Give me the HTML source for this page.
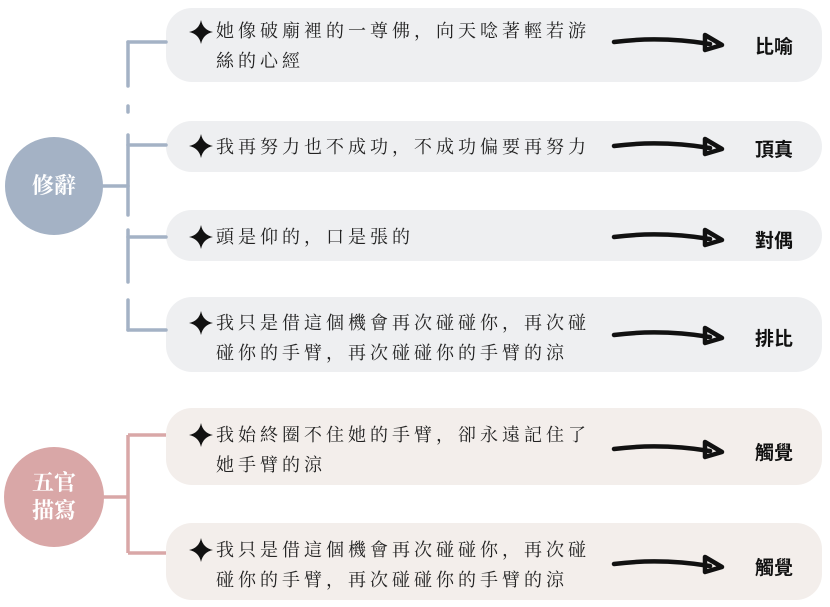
<!DOCTYPE html>
<html><head><meta charset="utf-8"><style>
body{margin:0;width:830px;height:607px;background:#fff;position:relative;overflow:hidden;font-family:"Liberation Serif","Noto Serif CJK SC","Noto Sans CJK TC",serif}
.b{position:absolute;left:166px;width:656px;border-radius:26px}
.bl{background:#eeeff1}.pk{background:#f3eeeb}
.t{position:absolute;left:216px;font-size:18px;letter-spacing:4px;line-height:30px;color:#222;width:380px}
.l{position:absolute;left:755px;font-family:"Liberation Sans","Noto Sans CJK TC",sans-serif;font-weight:bold;font-size:19px;color:#111}
.c{position:absolute;color:#fff;font-size:22px;text-align:center;font-weight:bold;line-height:28px;display:flex;align-items:center;justify-content:center}
</style></head><body>
<div class="b bl" style="top:8px;height:74px"></div>
<div class="b bl" style="top:121px;height:51px"></div>
<div class="b bl" style="top:210px;height:51px"></div>
<div class="b bl" style="top:297px;height:75px"></div>
<div class="b pk" style="top:408px;height:77px"></div>
<div class="b pk" style="top:523px;height:77px"></div>
<svg width="830" height="607" style="position:absolute;left:0;top:0">
<g stroke="#a4b2c5" stroke-width="3.5" fill="none" stroke-linecap="round">
<path d="M128 42V86M128 106V112M128 135V215M128 230V282M128 300V330"/>
<path d="M128 42H166M128 145H166M128 237H166M128 330H166M100 186H128"/>
</g>
<g stroke="#d9a7a7" stroke-width="3.5" fill="none">
<path d="M128 435V553M128 435H166M128 553H166M100 497H128"/>
</g>
<circle cx="54" cy="186" r="49" fill="#a4b2c5"/>
<circle cx="54" cy="497" r="50" fill="#d9a7a7"/>
<g fill="#111">
<path id="s" d="M201 20 Q203 30 213 32 Q203 34 201 44 Q199 34 189 32 Q199 30 201 20Z"/>
<use href="#s" y="114"/><use href="#s" y="205"/><use href="#s" y="291"/><use href="#s" y="403"/><use href="#s" y="518"/>
</g>
<g stroke="#111" stroke-width="4.5" fill="none" stroke-linecap="round" stroke-linejoin="round">
<g id="a"><path d="M614 42 Q660 36 710 44"/><path d="M705 35 L722 45 L705 50 Z"/></g>
<use href="#a" y="104"/><use href="#a" y="195"/><use href="#a" y="293"/><use href="#a" y="407"/><use href="#a" y="522"/>
</g>
</svg>
<div class="c" style="left:5px;top:137px;width:98px;height:98px">修辭</div>
<div class="c" style="left:4px;top:447px;width:100px;height:100px">五官<br>描寫</div>
<div class="t" style="top:16px">她像破廟裡的一尊佛，向天唸著輕若游絲的心經</div>
<div class="t" style="top:132px">我再努力也不成功，不成功偏要再努力</div>
<div class="t" style="top:222px">頭是仰的，口是張的</div>
<div class="t" style="top:308px">我只是借這個機會再次碰碰你，再次碰碰你的手臂，再次碰碰你的手臂的涼</div>
<div class="t" style="top:420px">我始終圈不住她的手臂，卻永遠記住了她手臂的涼</div>
<div class="t" style="top:535px">我只是借這個機會再次碰碰你，再次碰碰你的手臂，再次碰碰你的手臂的涼</div>
<div class="l" style="top:32px">比喻</div>
<div class="l" style="top:135px">頂真</div>
<div class="l" style="top:226px">對偶</div>
<div class="l" style="top:324px">排比</div>
<div class="l" style="top:438px">觸覺</div>
<div class="l" style="top:553px">觸覺</div>
</body></html>
